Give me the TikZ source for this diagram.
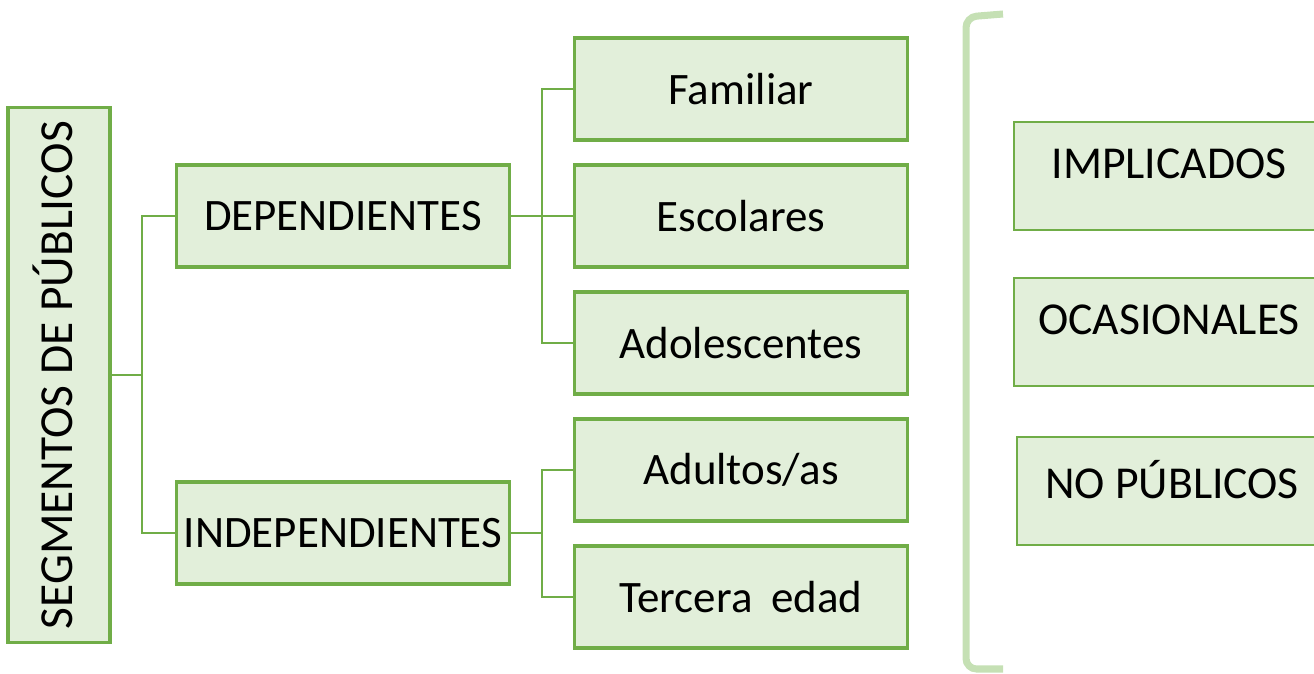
\documentclass[tikz,border=0pt]{standalone}
\usepackage{fontspec}
\setmainfont{Carlito}
\usepackage{tikz}
\usepackage{xcolor}
\usetikzlibrary{calc}
\definecolor{verde}{HTML}{70AD47}
\definecolor{verdeclaro}{HTML}{E2EFDA}
\definecolor{verdellave}{HTML}{C5E0B4}

\begin{document}
\begin{tikzpicture}[x=0.02cm,y=-0.02cm]
    \tikzstyle{caja}=[draw=verde,fill=verdeclaro,line width=1.8pt,minimum width=6.66cm,minimum height=2.04cm,inner sep=0pt,font=\fontsize{25.6}{30}\selectfont]
    \tikzstyle{cajader}=[draw=verde,fill=verdeclaro,line width=0.7pt,minimum width=6.2cm,minimum height=2.16cm,inner sep=0pt,font=\fontsize{26}{30}\selectfont]
    \tikzstyle{linea}=[draw=verde,line width=1.3pt]
    \useasboundingbox (0,0) rectangle (1314,673);
    \clip (0,0) rectangle (1314,673);

    \node[caja,minimum width=10.7cm,minimum height=2.04cm,rotate=90,font=\fontsize{27}{31}\selectfont] (1) at (59,375) {\raisebox{0.24cm}{SEGMENTOS DE PÚBLICOS}};

    \node[caja] (11) at (343,216) {DEPENDIENTES};
    \node[caja] (12) at (343,533) {INDEPENDIENTES};

    \node[caja] (21) at (741,89) {Familiar};
    \node[caja] (22) at (741,216) {Escolares};
    \node[caja] (23) at (741,343) {Adolescentes};
    \node[caja] (24) at (741,470) {Adultos/as};
    \node[caja] (25) at (741,597) {Tercera\hspace{0.42em}edad};

    \coordinate (c1) at (142,375);
    \coordinate (c11) at (542,216);
    \coordinate (c12) at (542,533);

    \draw[linea] (1) -- (c1);
    \draw[linea] (c1) |- (11);
    \draw[linea] (c1) |- (12);
    \draw[linea] (11) -- (c11);
    \draw[linea] (c11) |- (21);
    \draw[linea] (c11) |- (23);
    \draw[linea] (c11) -- (22);
    \draw[linea] (12) -- (c12);
    \draw[linea] (c12) |- (24);
    \draw[linea] (c12) |- (25);

    % llave
    \draw[verdellave,line width=4pt,rounded corners=6pt] (1003,14) -- (966,17) -- (966,669) -- (1003,669);

    \node[cajader] (31) at (1169,176) {\raisebox{0.48cm}{IMPLICADOS}};
    \node[cajader] (32) at (1169,332) {\raisebox{0.48cm}{OCASIONALES}};
    \node[cajader] (33) at (1172,491) {\raisebox{0.48cm}{NO PÚBLICOS}};
\end{tikzpicture}
\end{document}
